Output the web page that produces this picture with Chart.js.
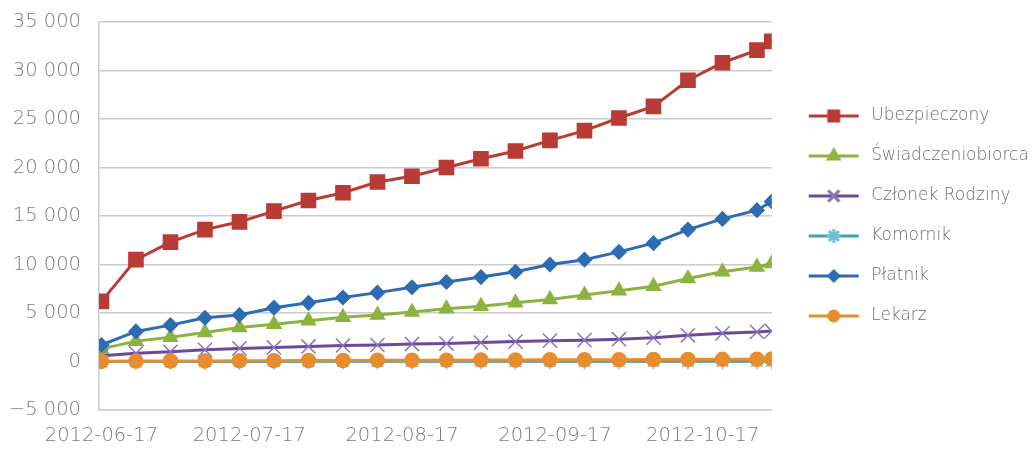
<!DOCTYPE html>
<html>
<head>
<meta charset="utf-8">
<script src="https://cdn.jsdelivr.net/npm/chart.js@4/dist/chart.umd.min.js"></script>
<style>
  html, body { margin: 0; padding: 0; background: #fff; }
</style>
</head>
<body>
<canvas id="chart" width="1034" height="450"></canvas>
<script>
// weekly readings + the last day of October
const dates = [
  '2012-06-17', '2012-06-24', '2012-07-01', '2012-07-08', '2012-07-15',
  '2012-07-22', '2012-07-29', '2012-08-05', '2012-08-12', '2012-08-19',
  '2012-08-26', '2012-09-02', '2012-09-09', '2012-09-16', '2012-09-23',
  '2012-09-30', '2012-10-07', '2012-10-14', '2012-10-21', '2012-10-28',
  '2012-10-31',
];
const tickDates = ['2012-06-17', '2012-07-17', '2012-08-17', '2012-09-17', '2012-10-17'];

const seriesNames = ['Ubezpieczony', 'Świadczeniobiorca', 'Członek Rodziny', 'Komornik', 'Płatnik', 'Lekarz'];

const ubezpieczony = [6200, 10500, 12300, 13600, 14400, 15500, 16600, 17400, 18500, 19100, 20000, 20900, 21700, 22800, 23800, 25100, 26300, 29000, 30800, 32100, 33000];
const swiadczeniobiorca = [1300, 2100, 2500, 3000, 3500, 3850, 4200, 4550, 4800, 5100, 5450, 5700, 6050, 6400, 6850, 7300, 7750, 8550, 9250, 9750, 10100];
const czlonekRodziny = [600, 850, 1000, 1200, 1350, 1450, 1550, 1650, 1700, 1800, 1850, 1950, 2050, 2150, 2200, 2300, 2450, 2700, 2900, 3050, 3150];
const komornik = [0, 5, 5, 10, 10, 10, 15, 15, 15, 20, 20, 20, 20, 25, 25, 25, 30, 30, 30, 35, 35];
const platnik = [1700, 3100, 3750, 4500, 4800, 5550, 6050, 6600, 7100, 7650, 8200, 8700, 9250, 10000, 10500, 11300, 12200, 13600, 14700, 15600, 16500];
const lekarz = [20, 40, 50, 60, 70, 90, 100, 110, 120, 130, 140, 150, 160, 170, 180, 190, 200, 210, 220, 240, 250];

const styles = [
  { color: '#b83b35', marker: '#b83b35', point: 'rect', r: 10, lr: 7 },
  { color: '#8cb340', marker: '#8cb340', point: 'triangle', r: 8, lr: 6 },
  { color: '#6a4b98', marker: '#8c74bb', point: 'crossRot', r: 10, lr: 8 },
  { color: '#3fa3b8', marker: '#6cc0d2', point: 'star', r: 8, lr: 7 },
  { color: '#2d6cb2', marker: '#2d6cb2', point: 'rectRot', r: 7, lr: 5 },
  { color: '#e88d2d', marker: '#e88d2d', point: 'circle', r: 7, lr: 5 },
];

const start = Date.UTC(2012, 5, 17);
function dayNum(s) {
  const p = s.split('-').map(Number);
  return (Date.UTC(p[0], p[1] - 1, p[2]) - start) / 86400000;
}

function fmt(v) {
  const s = Math.abs(v).toString().replace(/\B(?=(\d{3})+(?!\d))/g, ' ');
  return (v < 0 ? '\u2212' : '') + s;
}

// small canvas with line + marker for legend
function legendSample(st) {
  const c = document.createElement('canvas');
  c.width = 68;
  c.height = 20;
  const g = c.getContext('2d');
  g.strokeStyle = st.color;
  g.lineWidth = 3;
  g.beginPath();
  g.moveTo(14, 10);
  g.lineTo(64, 10);
  g.stroke();
  g.fillStyle = st.marker;
  g.strokeStyle = st.marker;
  Chart.helpers.drawPoint(g, { pointStyle: st.point, radius: st.lr, borderWidth: 1.5, rotation: 0 }, 39, 10);
  return c;
}

const allValues = [ubezpieczony, swiadczeniobiorca, czlonekRodziny, komornik, platnik, lekarz];
const xs = dates.map(dayNum);

const datasets = allValues.map((vals, i) => ({
  label: seriesNames[i],
  data: vals.map((v, j) => ({ x: xs[j], y: v })),
  borderColor: styles[i].color,
  backgroundColor: styles[i].marker,
  pointBorderColor: styles[i].marker,
  pointBackgroundColor: styles[i].marker,
  pointStyle: styles[i].point,
  pointRadius: styles[i].r,
  pointBorderWidth: 1.5,
  borderWidth: 3,
  order: allValues.length - i,
}));

const gridColor = '#cbcbcb';
const tickFont = { family: "'DejaVu Sans'", size: 19.5, weight: 300 };

new Chart(document.getElementById('chart'), {
  type: 'line',
  data: { datasets: datasets },
  options: {
    responsive: false,
    animation: false,
    layout: { padding: { top: 22, left: 0, right: 5, bottom: 2 } },
    scales: {
      x: {
        type: 'linear',
        min: -0.5,
        max: dayNum('2012-10-31'),
        afterBuildTicks: (scale) => {
          scale.ticks = tickDates.map((d) => ({ value: dayNum(d) }));
        },
        afterFit: (scale) => {
          scale.paddingLeft = 0;
          scale.paddingRight = 0;
          scale.height = 38;
        },
        ticks: {
          autoSkip: false,
          maxRotation: 0,
          padding: 14,
          color: '#7a7a7a',
          font: tickFont,
          callback: (v) => {
            const d = tickDates.find((t) => dayNum(t) === v);
            return d || '';
          },
        },
        grid: { display: false, drawTicks: false },
        border: { display: true, color: gridColor, width: 1.5 },
      },
      y: {
        min: -5000,
        max: 35000,
        afterFit: (scale) => {
          scale.paddingTop = 0;
          scale.paddingBottom = 0;
          scale.width = 99;
        },
        ticks: {
          stepSize: 5000,
          padding: 18,
          color: '#7a7a7a',
          font: tickFont,
          callback: (v) => fmt(v),
        },
        grid: { color: gridColor, lineWidth: 1.5, drawTicks: false },
        border: { display: true, color: gridColor, width: 1.5 },
      },
    },
    plugins: {
      tooltip: { enabled: false },
      legend: {
        position: 'right',
        fullSize: false,
        labels: {
          usePointStyle: true,
          pointStyleWidth: 68,
          padding: 23,
          color: '#6e6e6e',
          font: { family: "'DejaVu Sans'", size: 17, weight: 300 },
          generateLabels: (chart) =>
            chart.data.datasets.map((ds, i) => ({
              text: ds.label,
              pointStyle: legendSample(styles[i]),
              fillStyle: styles[i].marker,
              strokeStyle: styles[i].color,
              lineWidth: 0,
              hidden: false,
              datasetIndex: i,
              fontColor: '#6e6e6e',
            })),
        },
      },
    },
  },
});
</script>
</body>
</html>
